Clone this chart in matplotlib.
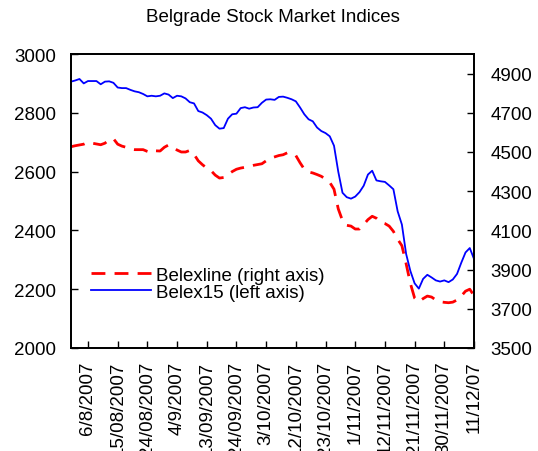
import numpy as np
import matplotlib
matplotlib.use('Agg')
import matplotlib.pyplot as plt

plt.rcParams['font.family'] = ['Liberation Sans', 'DejaVu Sans']

# trading days, Belex15 on the left axis, Belexline on the right axis
belex15 = [2906, 2910, 2915, 2900, 2908, 2908, 2908, 2897, 2906, 2907,
           2902, 2886, 2884, 2884, 2878, 2873, 2870, 2864, 2856, 2858,
           2856, 2858, 2866, 2862, 2850, 2858, 2856, 2849, 2836, 2832,
           2806, 2801, 2792, 2780, 2758, 2746, 2748, 2780, 2795, 2797,
           2816, 2819, 2814, 2818, 2819, 2834, 2845, 2846, 2844, 2854,
           2855, 2851, 2846, 2839, 2818, 2795, 2778, 2771, 2750, 2738,
           2731, 2720, 2688, 2600, 2528, 2513, 2508, 2515, 2530, 2552,
           2590, 2603, 2570, 2567, 2565, 2553, 2540, 2465, 2420, 2320,
           2262, 2220, 2202, 2235, 2249, 2240, 2230, 2226, 2230, 2224,
           2233, 2252, 2290, 2325, 2340, 2303]
belexline = [4527, 4532, 4536, 4540, 4550, 4545, 4541, 4537, 4545, 4562,
             4568, 4540, 4530, 4524, 4515, 4512, 4512, 4512, 4503, 4496,
             4506, 4505, 4524, 4536, 4524, 4510, 4500, 4500, 4508, 4488,
             4455, 4435, 4418, 4405, 4382, 4367, 4370, 4385, 4400, 4412,
             4418, 4422, 4427, 4432, 4436, 4440, 4455, 4468, 4475, 4482,
             4486, 4496, 4490, 4482, 4445, 4412, 4398, 4393, 4385, 4376,
             4362, 4345, 4310, 4210, 4150, 4126, 4122, 4107, 4107, 4130,
             4155, 4172, 4162, 4142, 4135, 4122, 4095, 4055, 4022, 3930,
             3830, 3755, 3736, 3752, 3765, 3760, 3745, 3736, 3733, 3731,
             3734, 3745, 3765, 3790, 3800, 3767]
tick_labels = ['6/8/2007', '15/08/2007', '24/08/2007', '4/9/2007', '13/09/2007',
               '24/09/2007', '3/10/2007', '12/10/2007', '23/10/2007', '1/11/2007',
               '12/11/2007', '21/11/2007', '30/11/2007', '11/12/07']

x = np.arange(len(belex15))
tick_pos = np.arange(4, len(belex15), 7)

fs = 13.5
fig = plt.figure(figsize=(5.38, 4.52), dpi=100)
ax = fig.add_axes([71/538, 103/452, 403/538, 294/452])
ax2 = ax.twinx()

l2, = ax2.plot(x, belexline, color='#ff0000', lw=2, dashes=(5, 3.3), label='Belexline (right axis)')
l1, = ax.plot(x, belex15, color='#0000ff', lw=1.3, label='Belex15 (left axis)')

ax.set_xlim(0, len(belex15) - 1)
ax.set_ylim(2000, 3000)
ax.set_yticks(np.arange(2000, 3001, 200))
ax2.set_ylim(3500, 5000)
ax2.set_yticks(np.arange(3500, 4901, 200))
ax.set_xticks(tick_pos)
ax.set_xticklabels(tick_labels, rotation=90, fontsize=fs)

for a in (ax, ax2):
    a.tick_params(direction='in', length=5, width=1, labelsize=fs)
    for s in a.spines.values():
        s.set_linewidth(1.3)
ax.tick_params(axis='y', pad=11)
ax.tick_params(axis='x', pad=9)
ax2.tick_params(axis='y', pad=12)

ax.legend([l2, l1], [l2.get_label(), l1.get_label()], loc='center left',
          bbox_to_anchor=(0.05, 0.218), frameon=False, fontsize=fs,
          borderpad=0, borderaxespad=0, labelspacing=0.0,
          handlelength=3.2, handletextpad=0.27)
ax.set_zorder(ax2.get_zorder() + 1)
ax.patch.set_visible(False)

fig.text(0.507, 1 - 18/452, 'Belgrade Stock Market Indices', ha='center', va='center', fontsize=fs)

plt.savefig('out.png', dpi=100)
